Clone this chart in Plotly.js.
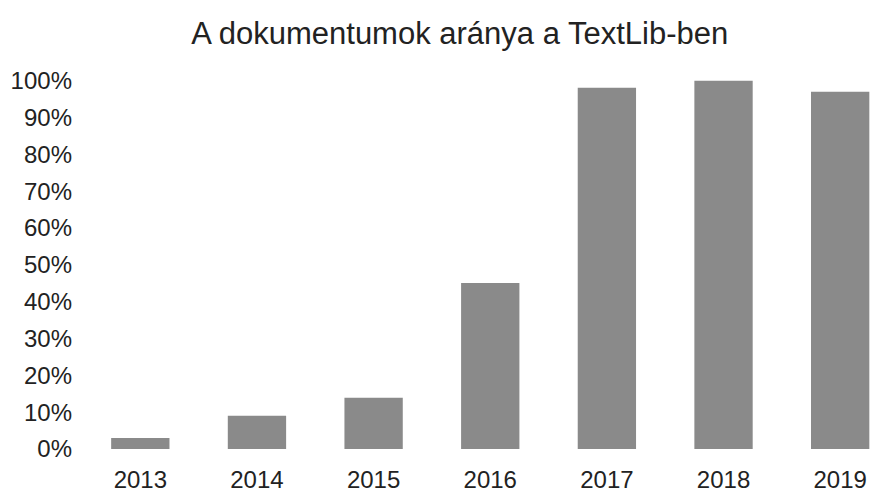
<!DOCTYPE html>
<html>
<head>
<meta charset="utf-8">
<script src="https://cdn.plot.ly/plotly-3.0.1.min.js"></script>
<style>html,body{margin:0;padding:0;background:#fff;}#chart{width:874px;height:492px;}</style>
</head>
<body>
<div id="chart"></div>
<script>
var years = ["2013", "2014", "2015", "2016", "2017", "2018", "2019"];
var shares = [0.03, 0.09, 0.139, 0.451, 0.981, 1.0, 0.97];
var yTickVals = [0, 0.1, 0.2, 0.3, 0.4, 0.5, 0.6, 0.7, 0.8, 0.9, 1.0];
var yTickText = ["0%", "10%", "20%", "30%", "40%", "50%", "60%", "70%", "80%", "90%", "100%"];
var chartTitle = "A dokumentumok aránya a TextLib-ben";

var trace = {
  type: "bar",
  x: years,
  y: shares,
  marker: {color: "#8a8a8a", line: {width: 0}},
  hoverinfo: "none"
};

var layout = {
  width: 874,
  height: 492,
  margin: {l: 82, r: 0, t: 44, b: 43, pad: 0},
  paper_bgcolor: "#ffffff",
  plot_bgcolor: "#ffffff",
  showlegend: false,
  bargap: 0.5,
  font: {family: "Liberation Sans, Arial, sans-serif", color: "#222222", size: 24},
  title: {
    text: chartTitle,
    font: {size: 31, color: "#222222"},
    x: 0.526, xanchor: "center",
    y: 0.933, yanchor: "middle"
  },
  xaxis: {
    type: "category",
    range: [-0.5, 6.29],
    showgrid: false,
    zeroline: false,
    showline: false,
    ticks: "",
    ticklabelstandoff: 14,
    tickfont: {size: 24}
  },
  yaxis: {
    range: [0, 1.1],
    tickvals: yTickVals,
    ticktext: yTickText,
    showgrid: false,
    zeroline: false,
    showline: false,
    ticks: "",
    ticklabelstandoff: 9,
    tickfont: {size: 24}
  }
};

Plotly.newPlot("chart", [trace], layout, {staticPlot: true, displayModeBar: false});
</script>
</body>
</html>
